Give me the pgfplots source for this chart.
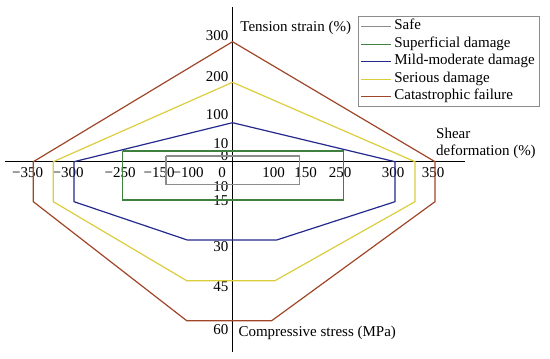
\documentclass[border=0pt]{standalone}
\usepackage{pgfplots}
\pgfplotsset{compat=1.18}
\usepackage{fontspec}
\setmainfont{Liberation Serif}
\definecolor{cgray}{RGB}{140,140,140}
\definecolor{cgreen}{RGB}{62,128,62}
\definecolor{cblue}{RGB}{36,42,140}
\definecolor{cyellow}{RGB}{220,205,60}
\definecolor{cred}{RGB}{160,70,40}
\begin{document}
\fontsize{15}{17}\selectfont
\begin{tikzpicture}
\begin{axis}[
  x=1pt, y=1pt,
  xmin=-227.5, xmax=232.5, ymin=-190.3, ymax=154.7,
  axis lines=middle,
  axis line style={-, line width=1.4pt, black},
  clip=false,
  major tick length=0pt,
  hide obscured x ticks=false, hide obscured y ticks=false,
  xtick={-204.8,-164.3,-112.3,-73.3,-44.3,-10.3,41.2,73,107.5,160.5,200.5},
  xticklabels={−350,−300,−250,−150,−100,0,100,150,250,300,350},
  xticklabel style={anchor=north, inner sep=0pt, yshift=-5.5pt},
  ytick={125.9,85,46.7,17.9,5.9,-25,-39.3,-85,-125,-168.3},
  yticklabels={300,200,100,10,0,10,15,30,45,60},
  yticklabel style={anchor=east, inner sep=0pt, xshift=-4pt},
  legend style={at={(axis cs:125.5,145.7)}, anchor=north west, draw=cgray, line width=0.8pt,
    inner xsep=2.5pt, inner ysep=1.5pt, row sep=0pt,
    nodes={inner xsep=2.5pt, inner ysep=1pt, text height=11pt, text depth=4.5pt},
    cells={anchor=west}},
  legend image code/.code={\draw[#1, line width=1pt] (0pt,0pt) -- (30pt,0pt);},
]
\addplot[cgray, line width=1.2pt] coordinates {(-66.5,5.7) (66.8,5.7) (66.8,-22.6) (-66.5,-22.6) (-66.5,5.7)};
\addlegendentry{Safe}
\addplot[cgreen, line width=1.2pt] coordinates {(-109.8,10.7) (110.8,10.7) (110.8,-38.3) (-109.8,-38.3) (-109.8,10.7)};
\addlegendentry{Superficial damage}
\addplot[cblue, line width=1.2pt] coordinates {(-158.5,0) (0,39) (162.5,0) (162.5,-40) (44.2,-78.3) (-45.2,-78.3) (-158.5,-40) (-158.5,0)};
\addlegendentry{Mild-moderate damage}
\addplot[cyellow, line width=1.2pt] coordinates {(-179.2,0) (0,79.4) (182.5,0) (182.5,-40) (42.5,-119) (-45.8,-119) (-179.2,-40) (-179.2,0)};
\addlegendentry{Serious damage}
\addplot[cred, line width=1.2pt] coordinates {(-199.2,0) (0,120) (202.5,0) (202.5,-40) (39.2,-159) (-45.8,-159) (-199.2,-40) (-199.2,0)};
\addlegendentry{Catastrophic failure}
\node[anchor=west, inner sep=0pt] at (axis cs:7.7,134.2) {Tension strain (\%)};
\node[anchor=west, inner sep=0pt, align=left] at (axis cs:203.5,18.5) {Shear\\deformation (\%)};
\node[anchor=west, inner sep=0pt] at (axis cs:5.8,-171.3) {Compressive stress (MPa)};
\coordinate (BL) at (axis cs:-232.5,-197.3);
\coordinate (TR) at (axis cs:317.5,161.7);
\end{axis}
\pgfresetboundingbox
\useasboundingbox (BL) rectangle (TR);
\end{tikzpicture}
\end{document}
